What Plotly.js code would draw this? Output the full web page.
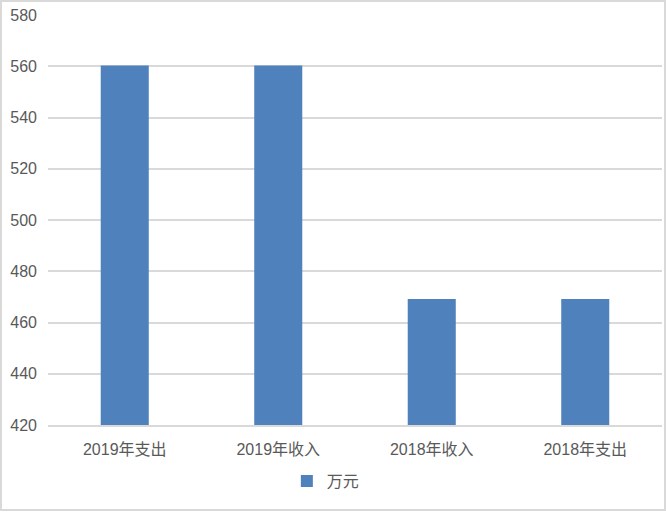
<!DOCTYPE html>
<html>
<head>
<meta charset="utf-8">
<script src="https://cdn.plot.ly/plotly-3.0.1.min.js"></script>
<style>
html,body{margin:0;padding:0;background:#fff;}
#frame{position:absolute;left:0;top:0;width:666px;height:511px;box-sizing:border-box;border:2px solid #d9d9d9;background:#fff;}
#chart{position:absolute;left:0;top:0;width:662px;height:507px;}
</style>
</head>
<body>
<div id="frame"><div id="chart"></div></div>
<script>
var categories = ["2019年支出", "2019年收入", "2018年收入", "2018年支出"];
var values = [560.3, 560.3, 469.2, 469.2];
var seriesName = "万元";
var yTicks = [420, 440, 460, 480, 500, 520, 540, 560, 580];

var font = "'Liberation Sans', 'Noto Sans CJK SC', sans-serif";

var trace = {
  type: "bar",
  x: categories,
  y: values,
  name: seriesName,
  marker: {color: "#4f81bd"},
  showlegend: true,
  hoverinfo: "none"
};

var layout = {
  width: 662,
  height: 507,
  margin: {l: 46, r: 2, t: 13, b: 84},
  paper_bgcolor: "#fff",
  plot_bgcolor: "#fff",
  bargap: 0.687,
  font: {family: font, color: "#595959", size: 16},
  xaxis: {
    type: "category",
    showgrid: false,
    showline: true,
    linecolor: "#d9d9d9",
    linewidth: 2,
    ticks: "",
    ticklabelstandoff: 9,
    tickfont: {family: font, size: 16, color: "#595959"},
    zeroline: false
  },
  yaxis: {
    range: [420, 580],
    tickvals: yTicks,
    ticktext: yTicks.map(String),
    showgrid: true,
    gridcolor: "#d9d9d9",
    gridwidth: 2,
    zeroline: false,
    showline: false,
    ticks: "",
    ticklabelstandoff: 10,
    tickfont: {family: font, size: 16, color: "#595959"}
  },
  showlegend: true,
  legend: {
    orientation: "h",
    x: 0.389,
    xanchor: "left",
    y: -0.137,
    yanchor: "middle",
    font: {family: font, size: 16, color: "#595959"},
    itemwidth: 30
  }
};

Plotly.newPlot("chart", [trace], layout, {displayModeBar: false, staticPlot: true});
</script>
</body>
</html>
